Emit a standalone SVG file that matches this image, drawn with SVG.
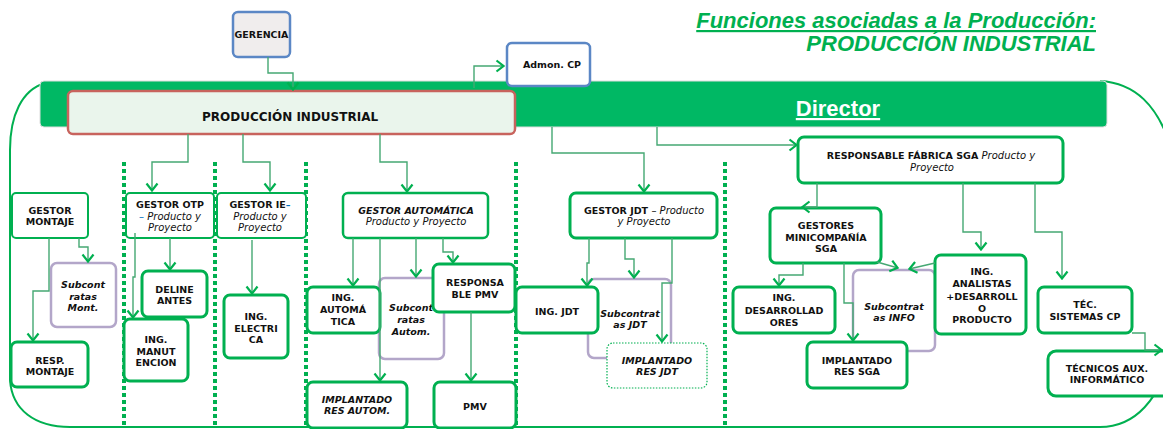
<svg xmlns="http://www.w3.org/2000/svg" width="1163" height="429" viewBox="0 0 1163 429">
<defs>
<marker id="ah" viewBox="0 0 10 14" refX="9" refY="7" markerWidth="10" markerHeight="14" markerUnits="userSpaceOnUse" orient="auto">
<path d="M1.5,1.5 L8.5,7 L1.5,12.5" fill="none" stroke="#00B050" stroke-width="2.2"/>
</marker>
<style>
.t{font-family:"DejaVu Sans",Verdana,sans-serif;font-size:9.5px;font-weight:bold;fill:#111;text-anchor:middle}
.i{font-style:italic;font-weight:normal;font-size:10px}
.bi{font-style:italic}
.n{fill:#fff;stroke:#00B050;stroke-width:3}
.nt{fill:#fff;stroke:#00B050;stroke-width:2}
.lv{fill:#fff;stroke:#B3A6C9;stroke-width:2.5}
.c{fill:none;stroke:#45A873;stroke-width:1.4;marker-end:url(#ah)}
.sep{stroke:#00B050;stroke-width:4;stroke-dasharray:4 3}
.blue{fill:#fff;stroke:#5B87C5;stroke-width:2.5}
</style>
</defs>

<g id="background">
<path d="M45,83 C22,90 10,115 10,150 L10,380 C12,410 35,427 70,427 L1100,427 C1135,427 1160,400 1172,350" fill="none" stroke="#00B050" stroke-width="2"/>
<path d="M1100,81 C1135,83 1158,105 1172,150" fill="none" stroke="#00B050" stroke-width="2"/>
<rect x="40" y="81" width="1067" height="46" rx="4" fill="#00B864" stroke="#DDDDDD" stroke-width="1"/>
<text x="838" y="116" font-family="Liberation Sans, Arial, sans-serif" font-size="22" font-weight="bold" fill="#fff" text-anchor="middle" text-decoration="underline">Director</text>
<text x="1096" y="28" font-family="Liberation Sans, Arial, sans-serif" font-size="22" font-weight="bold" font-style="italic" fill="#00B050" text-anchor="end" text-decoration="underline">Funciones asociadas a la Producción:</text>
<text x="1096" y="51" font-family="Liberation Sans, Arial, sans-serif" font-size="22" font-weight="bold" font-style="italic" fill="#00B050" text-anchor="end">PRODUCCIÓN INDUSTRIAL</text>
<line class="sep" x1="124" y1="162" x2="124" y2="428"/>
<line class="sep" x1="215" y1="162" x2="215" y2="428"/>
<line class="sep" x1="306" y1="162" x2="306" y2="428"/>
<line class="sep" x1="516" y1="162" x2="516" y2="428"/>
<line class="sep" x1="725" y1="162" x2="725" y2="428"/>
</g>

<g id="gerencia">
<rect x="233" y="12" width="57" height="45" rx="5" fill="#F0EDED" stroke="#5B87C5" stroke-width="2.5"/>
<text class="t" x="261.5" y="38">GERENCIA</text>
</g>
<g id="produccion-industrial">
<rect x="68" y="91" width="447" height="43" rx="5" fill="#EAF5EC" stroke="#C8635D" stroke-width="2.5"/>
<text class="t" x="290" y="121" style="font-size:12px">PRODUCCIÓN INDUSTRIAL</text>
</g>
<g id="admon-cp">
<rect class="blue" x="507" y="43" width="83" height="43" rx="5"/>
<text class="t" x="552" y="68">Admon. CP</text>
</g>

<g id="subcont-mont">
<rect class="lv" x="51" y="263" width="65" height="64" rx="6"/>
<text class="t bi" x="83" y="288">Subcont</text>
<text class="t bi" x="83" y="299.5">ratas</text>
<text class="t bi" x="83" y="311">Mont.</text>
</g>
<g id="subcont-autom">
<rect class="lv" x="379" y="278" width="65" height="81" rx="6"/>
<text class="t bi" x="411" y="311">Subcont</text>
<text class="t bi" x="411" y="323">ratas</text>
<text class="t bi" x="411" y="335">Autom.</text>
</g>
<g id="subcont-jdt">
<rect class="lv" x="588" y="279" width="83" height="79" rx="6"/>
<text class="t bi" x="630" y="317">Subcontrat</text>
<text class="t bi" x="630" y="328">as JDT</text>
</g>
<g id="subcont-info">
<rect class="lv" x="853" y="270" width="82" height="81" rx="6"/>
<text class="t bi" x="894" y="310">Subcontrat</text>
<text class="t bi" x="894" y="321">as INFO</text>
</g>

<g id="gestor-montaje">
<rect class="nt" x="12" y="193" width="76" height="45" rx="4"/>
<text class="t" x="50" y="214">GESTOR</text>
<text class="t" x="50" y="225">MONTAJE</text>
</g>
<g id="resp-montaje">
<rect class="n" x="11" y="342" width="77" height="45" rx="6"/>
<text class="t" x="50" y="364">RESP.</text>
<text class="t" x="50" y="375">MONTAJE</text>
</g>
<g id="gestor-otp">
<rect class="nt" x="126" y="193" width="88" height="45" rx="4"/>
<text class="t" x="170" y="208">GESTOR OTP</text>
<text class="t i" x="170" y="219.5"><tspan fill="#0070C0">–</tspan> Producto y</text>
<text class="t i" x="170" y="231">Proyecto</text>
</g>
<g id="gestor-ie">
<rect class="nt" x="217" y="193" width="89" height="45" rx="4"/>
<text class="t" x="260" y="208">GESTOR IE<tspan fill="#0070C0">–</tspan></text>
<text class="t i" x="260" y="219.5">Producto y</text>
<text class="t i" x="260" y="231">Proyecto</text>
</g>
<g id="delineantes">
<rect class="n" x="142" y="271" width="65" height="46" rx="6"/>
<text class="t" x="174.5" y="293">DELINE</text>
<text class="t" x="174.5" y="304">ANTES</text>
</g>
<g id="ing-mantenimiento">
<rect class="n" x="124" y="319" width="64" height="62" rx="6"/>
<text class="t" x="156" y="343">ING.</text>
<text class="t" x="156" y="355">MANUT</text>
<text class="t" x="156" y="366">ENCION</text>
</g>
<g id="ing-electrica">
<rect class="n" x="224" y="295" width="64" height="63" rx="6"/>
<text class="t" x="256" y="320">ING.</text>
<text class="t" x="256" y="331.5">ELECTRI</text>
<text class="t" x="256" y="343">CA</text>
</g>
<g id="gestor-automatica">
<rect class="n" x="343" y="193" width="145" height="45" rx="5" style="stroke-width:2.5"/>
<text class="t bi" x="416" y="214">GESTOR AUTOMÁTICA</text>
<text class="t i" x="416" y="225">Producto y Proyecto</text>
</g>
<g id="ing-automatica">
<rect class="n" x="307" y="287" width="73" height="46" rx="6"/>
<text class="t" x="343" y="301">ING.</text>
<text class="t" x="343" y="313">AUTOMÁ</text>
<text class="t" x="343" y="325">TICA</text>
</g>
<g id="responsable-pmv">
<rect class="n" x="433" y="264" width="82" height="48" rx="6"/>
<text class="t" x="475" y="286">RESPONSA</text>
<text class="t" x="475" y="297.5">BLE PMV</text>
</g>
<g id="implantadores-autom">
<rect class="n" x="307" y="382" width="100" height="46" rx="6"/>
<text class="t bi" x="357" y="403">IMPLANTADO</text>
<text class="t bi" x="357" y="414">RES AUTOM.</text>
</g>
<g id="pmv">
<rect class="n" x="434" y="382" width="82" height="46" rx="6"/>
<text class="t" x="475" y="410">PMV</text>
</g>
<g id="gestor-jdt">
<rect class="n" x="570" y="193" width="147" height="45" rx="6"/>
<text class="t" x="644" y="214">GESTOR JDT <tspan class="i">  – Producto</tspan></text>
<text class="t i" x="644" y="225">y Proyecto</text>
</g>
<g id="ing-jdt">
<rect class="n" x="516" y="287" width="82" height="46" rx="6"/>
<text class="t" x="557" y="315">ING. JDT</text>
</g>
<g id="implantadores-jdt">
<rect x="607" y="343" width="100" height="45" rx="6" fill="#fff" stroke="#00B050" stroke-width="1.2" stroke-dasharray="1.5 1.5"/>
<text class="t bi" x="657" y="364">IMPLANTADO</text>
<text class="t bi" x="657" y="375">RES JDT</text>
</g>
<g id="responsable-fabrica-sga">
<rect class="n" x="798" y="137" width="265" height="46" rx="6"/>
<text class="t" x="931" y="159">RESPONSABLE FÁBRICA SGA <tspan class="i"> Producto y</tspan></text>
<text class="t i" x="932" y="170.5">Proyecto</text>
</g>
<g id="gestores-minicompania-sga">
<rect class="n" x="770" y="208" width="111" height="55" rx="6"/>
<text class="t" x="826" y="229">GESTORES</text>
<text class="t" x="826" y="240.5">MINICOMPAÑÍA</text>
<text class="t" x="826" y="252">SGA</text>
</g>
<g id="ing-desarrolladores">
<rect class="n" x="733" y="287" width="102" height="46" rx="6"/>
<text class="t" x="784" y="301">ING.</text>
<text class="t" x="784" y="313.5">DESARROLLAD</text>
<text class="t" x="784" y="326">ORES</text>
</g>
<g id="ing-analistas">
<rect class="n" x="935" y="255" width="91" height="79" rx="6"/>
<text class="t" x="982" y="275">ING.</text>
<text class="t" x="982" y="287">ANALISTAS</text>
<text class="t" x="982" y="299.5">+DESARROLL</text>
<text class="t" x="982" y="311.5">O</text>
<text class="t" x="982" y="323">PRODUCTO</text>
</g>
<g id="implantadores-sga">
<rect class="n" x="807" y="342" width="100" height="46" rx="6"/>
<text class="t" x="857" y="364">IMPLANTADO</text>
<text class="t" x="857" y="375">RES SGA</text>
</g>
<g id="tec-sistemas-cp">
<rect class="n" x="1038" y="287" width="94" height="46" rx="6"/>
<text class="t" x="1085" y="308">TÉC.</text>
<text class="t" x="1085" y="320">SISTEMAS CP</text>
</g>
<g id="tecnicos-aux-informatico">
<rect class="n" x="1048" y="351" width="130" height="45" rx="8"/>
<text class="t" x="1107" y="372">TÉCNICOS AUX.</text>
<text class="t" x="1107" y="383">INFORMÁTICO</text>
</g>

<g id="connectors">
<path class="c" d="M268,57 V73 H293 V90"/>
<path class="c" d="M474,88 V66 H504"/>
<path class="c" d="M188,134 V162 H152 V191"/>
<path class="c" d="M243,134 V162 H270 V191"/>
<path class="c" d="M380,134 V162 H407 V192"/>
<path class="c" d="M552,127 V153 H644 V192"/>
<path class="c" d="M657,127 V145 H797"/>
<path class="c" d="M79,238 V247 H88 V262"/>
<path class="c" d="M49,238 V291 H33 V341"/>
<path class="c" d="M170,238 V270"/>
<path class="c" d="M135,233 V277 H133 V318"/>
<path class="c" d="M252,240 V294"/>
<path class="c" d="M353,238 V286"/>
<path class="c" d="M380,238 V381"/>
<path class="c" d="M416,238 V277"/>
<path class="c" d="M443,238 V252 H453 V263"/>
<path class="c" d="M471,312 V381"/>
<path class="c" d="M589,238 V263 H587 V286"/>
<path class="c" d="M625,238 V259 H634 V278"/>
<path class="c" d="M672,238 V283 H662 V342"/>
<path class="c" d="M817,183 V207 H802"/>
<path class="c" d="M963,183 V232 H981 V250"/>
<path class="c" d="M1035,183 V232 H1062 V279"/>
<path class="c" d="M803,263 V275 H779 V286"/>
<path class="c" d="M844,263 V303 H853 V341"/>
<path class="c" d="M877,262 L898,268"/>
<path class="c" d="M935,263 L909,269"/>
<path class="c" d="M1132,333 H1145 V350 H1162"/>
</g>
</svg>
